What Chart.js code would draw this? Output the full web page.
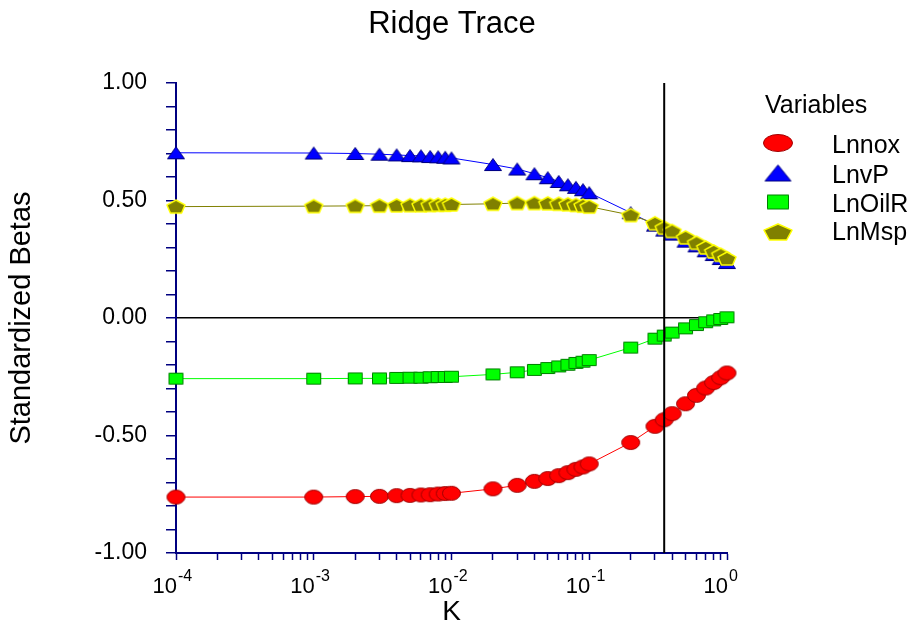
<!DOCTYPE html>
<html>
<head>
<meta charset="utf-8">
<title>Ridge Trace</title>
<script src="https://cdn.jsdelivr.net/npm/chart.js@4.4.1/dist/chart.umd.min.js"></script>
<style>
    html, body { margin: 0; padding: 0; background: #fff; }
    #wrap { width: 915px; height: 625px; }
</style>
</head>
<body>
<div id="wrap"><canvas id="ridgeChart" width="915" height="625"></canvas></div>
<script>
// Ridge trace: standardized betas for each ridge parameter K

const kValues = [
    0.0001,
    0.001, 0.002, 0.003, 0.004, 0.005, 0.006, 0.007, 0.008, 0.009,
    0.01, 0.02, 0.03, 0.04, 0.05, 0.06, 0.07, 0.08, 0.09,
    0.1, 0.2, 0.3, 0.35, 0.4, 0.5, 0.6, 0.7, 0.8, 0.9, 1.0
];

const lnnox = [
    -0.762,
    -0.762, -0.760, -0.759, -0.756, -0.755, -0.753, -0.752, -0.749, -0.747,
    -0.746, -0.727, -0.712, -0.695, -0.683, -0.671, -0.658, -0.644, -0.634,
    -0.621, -0.530, -0.461, -0.433, -0.407, -0.365, -0.329, -0.298, -0.275, -0.254, -0.234
];

const lnvp = [
    0.703,
    0.702, 0.700, 0.697, 0.694, 0.691, 0.690, 0.687, 0.686, 0.684,
    0.681, 0.653, 0.634, 0.614, 0.597, 0.581, 0.567, 0.556, 0.546,
    0.533, 0.448, 0.395, 0.374, 0.357, 0.327, 0.307, 0.286, 0.270, 0.253, 0.236
];

const lnoilr = [
    -0.258,
    -0.258, -0.257, -0.257, -0.255, -0.254, -0.254, -0.252, -0.251, -0.251,
    -0.250, -0.240, -0.231, -0.221, -0.213, -0.206, -0.199, -0.191, -0.186,
    -0.179, -0.126, -0.088, -0.075, -0.062, -0.044, -0.030, -0.018, -0.010, -0.004, 0.003
];

const lnmsp = [
    0.474,
    0.476, 0.477, 0.478, 0.479, 0.480, 0.480, 0.481, 0.482, 0.482,
    0.483, 0.486, 0.489, 0.489, 0.488, 0.486, 0.484, 0.481, 0.478,
    0.474, 0.438, 0.403, 0.384, 0.370, 0.343, 0.320, 0.300, 0.283, 0.269, 0.253
];

// chosen K (vertical reference line)
const selectedK = 0.35;

// axis ticks
const xTickValues = [0.0001, 0.001, 0.01, 0.1, 1];
const xTickExponents = ['-4', '-3', '-2', '-1', '0'];
const yTickValues = [-1, -0.5, 0, 0.5, 1];
const yTickLabels = ['-1.00', '-0.50', '0.00', '0.50', '1.00'];

const FONT = "'Liberation Sans', Arial, Helvetica, sans-serif";

// Build a marker image (symbols are slightly wider than tall, like the original)
function makeMarker(shape, w, h, fill, stroke, lw) {
    const c = document.createElement('canvas');
    c.width = Math.ceil(w + lw + 2);
    c.height = Math.ceil(h + lw + 2);
    const g = c.getContext('2d');
    const cx = c.width / 2;
    const cy = c.height / 2;
    g.fillStyle = fill;
    g.strokeStyle = stroke;
    g.lineWidth = lw;
    g.lineJoin = 'round';
    g.beginPath();
    if (shape === 'ellipse') {
        g.ellipse(cx, cy, w / 2, h / 2, 0, 0, Math.PI * 2);
    } else if (shape === 'triangle') {
        g.moveTo(cx, cy - h / 2);
        g.lineTo(cx + w / 2, cy + h / 2);
        g.lineTo(cx - w / 2, cy + h / 2);
        g.closePath();
    } else if (shape === 'rect') {
        g.rect(cx - w / 2, cy - h / 2, w, h);
    } else if (shape === 'pentagon') {
        const rx = w / (2 * Math.sin(Math.PI * 2 / 5));
        const ry = h / (1 + Math.cos(Math.PI / 5));
        const y0 = cy - h / 2 + ry;
        for (let i = 0; i < 5; i++) {
            const a = -Math.PI / 2 + i * Math.PI * 2 / 5;
            const px = cx + rx * Math.cos(a);
            const py = y0 + ry * Math.sin(a);
            if (i === 0) g.moveTo(px, py); else g.lineTo(px, py);
        }
        g.closePath();
    }
    g.fill();
    g.stroke();
    return c;
}

function toPoints(values) {
    return kValues.map((k, i) => ({ x: k, y: values[i] }));
}

// series styles
const seriesDefs = [
    { label: 'Lnnox',  data: lnnox,  shape: 'ellipse',  line: '#ff0000', fill: '#ff0000', stroke: '#a00000', lw: 1,   size: [18, 14], legendSize: [29, 17], order: 4 },
    { label: 'LnvP',   data: lnvp,   shape: 'triangle', line: '#0000ff', fill: '#0000ff', stroke: '#000080', lw: 1,   size: [17, 12], legendSize: [26, 16], order: 2 },
    { label: 'LnOilR', data: lnoilr, shape: 'rect',     line: '#00ff00', fill: '#00ff00', stroke: '#008000', lw: 1,   size: [14, 11], legendSize: [21, 14], order: 3 },
    { label: 'LnMsp',  data: lnmsp,  shape: 'pentagon', line: '#808000', fill: '#808000', stroke: '#ffff00', lw: 1.5, size: [18, 13], legendSize: [28, 16], order: 1 }
];

const datasets = seriesDefs.map(s => ({
    label: s.label,
    data: toPoints(s.data),
    borderColor: s.line,
    borderWidth: 1,
    tension: 0,
    pointStyle: makeMarker(s.shape, s.size[0], s.size[1], s.fill, s.stroke, s.lw),
    pointRadius: 6,
    legendMarker: makeMarker(s.shape, s.legendSize[0], s.legendSize[1], s.fill, s.stroke, s.lw),
    order: s.order,
    clip: false
}));

// vertical line at the chosen K
datasets.push({
    label: 'K selected',
    data: [{ x: selectedK, y: -1 }, { x: selectedK, y: 1 }],
    borderColor: '#000000',
    borderWidth: 2,
    pointRadius: 0,
    order: 0
});

// Title, superscript tick labels and legend
const decorPlugin = {
    id: 'ridgeDecor',
    afterDraw(chart) {
        const ctx = chart.ctx;
        const xScale = chart.scales.x;
        ctx.save();
        ctx.fillStyle = '#000000';

        // title
        ctx.font = '31px ' + FONT;
        ctx.textAlign = 'center';
        ctx.textBaseline = 'alphabetic';
        ctx.fillText('Ridge Trace', 452, 33);

        // x tick labels: 10 with raised exponent
        xTickValues.forEach((v, i) => {
            const px = xScale.getPixelForValue(v);
            ctx.font = '22px ' + FONT;
            ctx.textAlign = 'right';
            ctx.fillText('10', px + 1, 593);
            ctx.font = '16px ' + FONT;
            ctx.textAlign = 'left';
            ctx.fillText(xTickExponents[i], px + 2, 581);
        });

        // legend
        ctx.font = '25px ' + FONT;
        ctx.textAlign = 'left';
        ctx.fillText('Variables', 765, 113);
        const rows = [
            { marker: 143, text: 153 },
            { marker: 173, text: 183 },
            { marker: 202, text: 212 },
            { marker: 232, text: 240 }
        ];
        chart.data.datasets.filter(d => d.legendMarker).forEach((d, i) => {
            const m = d.legendMarker;
            ctx.drawImage(m, 778 - m.width / 2, rows[i].marker - m.height / 2);
            ctx.fillText(d.label, 832, rows[i].text);
        });
        ctx.restore();
    }
};

// minor ticks of the log axis: 1..9 in every decade
const xMinorTicks = [];
xTickValues.forEach((v, i) => {
    if (i === xTickValues.length - 1) {
        xMinorTicks.push(v);
        return;
    }
    for (let m = 1; m <= 9; m++) xMinorTicks.push(+(m * v).toPrecision(3));
});

const ridgeChart = new Chart(document.getElementById('ridgeChart').getContext('2d'), {
    type: 'line',
    data: { datasets: datasets },
    plugins: [decorPlugin],
    options: {
        responsive: false,
        animation: false,
        events: [],
        layout: {
            padding: { left: 0, right: 188, top: 83, bottom: 0 }
        },
        plugins: {
            legend: { display: false },
            title: { display: false },
            tooltip: { enabled: false }
        },
        scales: {
            x: {
                type: 'logarithmic',
                min: 0.0001,
                max: 1,
                afterBuildTicks: function(scale) {
                    scale.ticks = xMinorTicks.map(v => ({ value: v }));
                },
                afterFit: function(scale) {
                    scale.height = 72;
                },
                ticks: { display: false },
                grid: {
                    drawOnChartArea: false,
                    drawTicks: true,
                    tickLength: 7,
                    tickColor: '#000080',
                    tickWidth: 1.5
                },
                border: { color: '#000080', width: 2 },
                title: {
                    display: true,
                    text: 'K',
                    color: '#000000',
                    font: { family: FONT, size: 28, lineHeight: 0.9 },
                    padding: 0
                }
            },
            y: {
                min: -1,
                max: 1,
                afterBuildTicks: function(scale) {
                    const t = [];
                    for (let i = -10; i <= 10; i++) t.push({ value: i / 10 });
                    scale.ticks = t;
                },
                afterFit: function(scale) {
                    scale.width = 176;
                },
                ticks: {
                    autoSkip: false,
                    color: '#000000',
                    padding: 19,
                    font: { family: FONT, size: 23 },
                    callback: function(value) {
                        const idx = yTickValues.findIndex(v => Math.abs(v - value) < 1e-6);
                        return idx >= 0 ? yTickLabels[idx] : '';
                    }
                },
                grid: {
                    drawOnChartArea: true,
                    color: function(ctx) {
                        return ctx.tick && Math.abs(ctx.tick.value) < 1e-6 ? '#000000' : 'rgba(0,0,0,0)';
                    },
                    lineWidth: 1.5,
                    tickLength: 10,
                    tickColor: '#000080',
                    tickWidth: 1.5
                },
                border: { color: '#000080', width: 2 },
                title: {
                    display: true,
                    text: 'Standardized Betas',
                    color: '#000000',
                    font: { family: FONT, size: 29 },
                    padding: { top: 5, bottom: 0 }
                }
            }
        }
    }
});
</script>
</body>
</html>
